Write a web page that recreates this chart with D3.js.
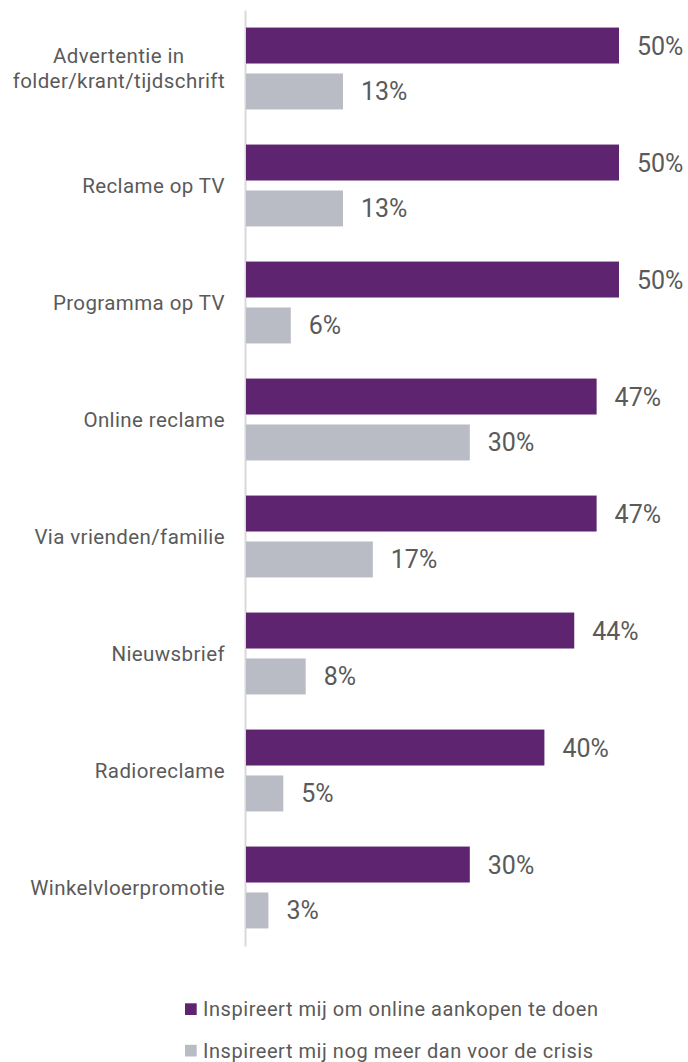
<!DOCTYPE html>
<html>
<head>
<meta charset="utf-8">
<script src="https://cdn.jsdelivr.net/npm/d3@7"></script>
<style>
  html, body { margin: 0; padding: 0; background: #ffffff; }
  svg { display: block; font-family: Roboto, "Noto Sans", sans-serif; }
</style>
</head>
<body>
<svg id="chart" width="688" height="1062"></svg>
<script>
// Media channels (line breaks marked with \n)
const categories = [
  "Advertentie in\nfolder/krant/tijdschrift",
  "Reclame op TV",
  "Programma op TV",
  "Online reclame",
  "Via vrienden/familie",
  "Nieuwsbrief",
  "Radioreclame",
  "Winkelvloerpromotie"
];

// Share of respondents (%)
const inspireOnline = [50, 50, 50, 47, 47, 44, 40, 30];
const moreThanBefore = [13, 13, 6, 30, 17, 8, 5, 3];

const seriesNames = [
  "Inspireert mij om online aankopen te doen",
  "Inspireert mij nog meer dan voor de crisis"
];
const seriesColors = ["#5e2470", "#b9bcc5"];

const textColor = "#5a5a5a";
const svg = d3.select("#chart");

const rows = categories.map((c, i) => ({
  category: c,
  values: [inspireOnline[i], moreThanBefore[i]]
}));

// Scales
const x = d3.scaleLinear().domain([0, 50]).range([246, 619]);
const y0 = d3.scaleBand()
  .domain(categories)
  .range([10, 946])
  .paddingInner(0.3)
  .paddingOuter(0.15);
const y1 = d3.scaleBand()
  .domain([0, 1])
  .range([0, y0.bandwidth()])
  .paddingInner(0.217);

// Vertical category axis line
const axis = svg.append("g")
  .attr("transform", "translate(245,0)")
  .call(d3.axisLeft(y0).tickSize(0).tickFormat("").tickSizeOuter(0));
axis.select(".domain").attr("stroke", "#d9d9d9").attr("stroke-width", 2);

// Bars and value labels
const groups = svg.append("g").selectAll("g")
  .data(rows)
  .join("g")
  .attr("transform", d => `translate(0,${y0(d.category)})`);

groups.selectAll("rect")
  .data(d => d.values.map((v, k) => ({ v, k })))
  .join("rect")
  .attr("x", x(0))
  .attr("y", d => y1(d.k))
  .attr("width", d => x(d.v) - x(0))
  .attr("height", y1.bandwidth())
  .attr("fill", d => seriesColors[d.k]);

groups.selectAll("text.value")
  .data(d => d.values.map((v, k) => ({ v, k })))
  .join("text")
  .attr("class", "value")
  .attr("x", d => x(d.v) + 18)
  .attr("y", d => y1(d.k) + y1.bandwidth() / 2)
  .attr("dy", "0.36em")
  .attr("font-size", 25)
  .attr("fill", textColor)
  .text(d => d.v + "%");

// Category labels: right edge aligned, multi-line labels centred on each other
const labelRight = 225;
const lineHeight = 24.4;
rows.forEach(d => {
  const lines = d.category.split("\n");
  const cy = y0(d.category) + y0.bandwidth() / 2;
  const t = svg.append("text")
    .attr("font-size", 20.5)
    .attr("letter-spacing", 0.4)
    .attr("fill", textColor)
    .attr("text-anchor", "middle");
  const spans = lines.map((line, i) => t.append("tspan")
    .attr("y", cy + (i - (lines.length - 1) / 2) * lineHeight)
    .attr("dy", "0.35em")
    .text(line));
  const maxW = d3.max(spans, s => s.node().getComputedTextLength());
  spans.forEach(s => s.attr("x", labelRight - maxW / 2));
});

// Legend
const legend = svg.append("g").selectAll("g")
  .data(seriesNames)
  .join("g")
  .attr("transform", (d, i) => `translate(185,${1016 + i * 41.5})`);
legend.append("rect")
  .attr("x", 0)
  .attr("y", -12.7)
  .attr("width", 11.7)
  .attr("height", 11.7)
  .attr("fill", (d, i) => seriesColors[i]);
legend.append("text")
  .attr("x", 18)
  .attr("y", 0)
  .attr("font-size", 20)
  .attr("letter-spacing", 0.55)
  .attr("fill", textColor)
  .text(d => d);
</script>
</body>
</html>
